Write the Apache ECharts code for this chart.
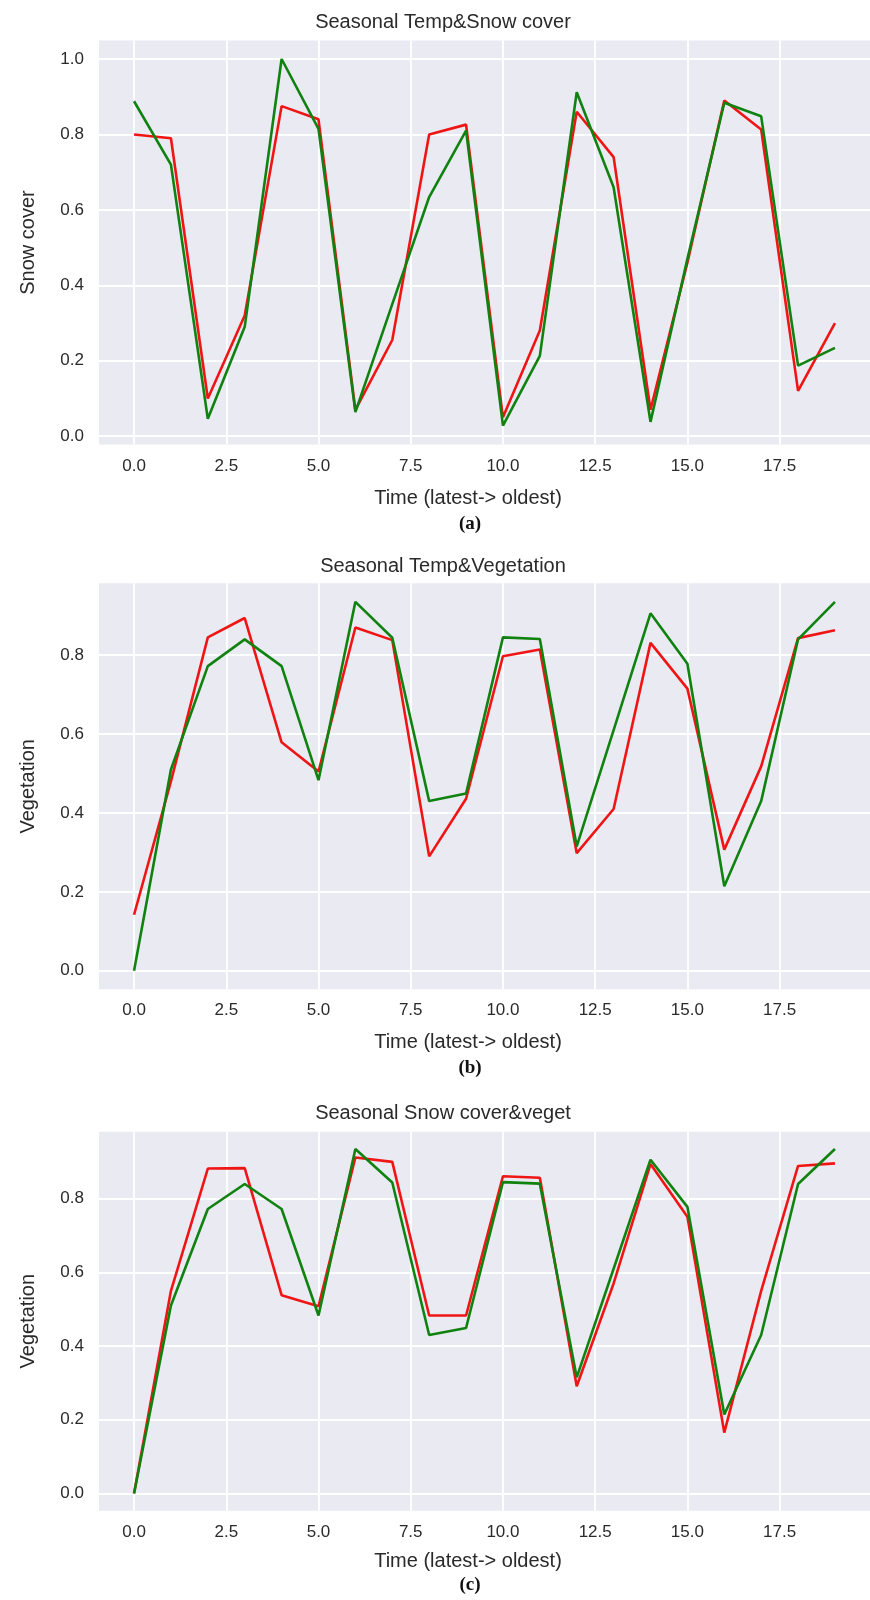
<!DOCTYPE html>
<html>
<head>
<meta charset="utf-8">
<script src="https://cdn.jsdelivr.net/npm/echarts@6/dist/echarts.min.js"></script>
<style>
  html, body { margin: 0; padding: 0; background: #ffffff; }
  #chart { width: 870px; height: 1600px; }
</style>
</head>
<body>
<div id="chart"></div>
<script>
// ---- data ---------------------------------------------------------------
const timeSteps = [0, 1, 2, 3, 4, 5, 6, 7, 8, 9, 10, 11, 12, 13, 14, 15, 16, 17, 18, 19];

// (a) seasonal temperature vs snow cover
const tempVsSnow = [0.80, 0.79, 0.10, 0.32, 0.875, 0.84, 0.07, 0.255, 0.80, 0.826,
                    0.05, 0.28, 0.86, 0.74, 0.07, 0.46, 0.89, 0.813, 0.12, 0.30];
const snowCover  = [0.888, 0.72, 0.046, 0.29, 1.0, 0.815, 0.064, 0.35, 0.634, 0.81,
                    0.028, 0.213, 0.912, 0.66, 0.038, 0.47, 0.884, 0.848, 0.187, 0.234];

// (b) seasonal temperature vs vegetation
const tempVsVeg  = [0.142, 0.48, 0.845, 0.894, 0.579, 0.505, 0.87, 0.838, 0.29, 0.436,
                    0.797, 0.814, 0.298, 0.41, 0.831, 0.715, 0.307, 0.518, 0.843, 0.863];
const vegetation = [0.0, 0.51, 0.772, 0.84, 0.772, 0.483, 0.935, 0.844, 0.43, 0.449,
                    0.845, 0.841, 0.315, 0.61, 0.906, 0.778, 0.214, 0.43, 0.84, 0.935];

// (c) seasonal snow cover vs vegetation
const snowVsVeg  = [0.0, 0.55, 0.882, 0.883, 0.538, 0.508, 0.912, 0.90, 0.483, 0.483,
                    0.861, 0.857, 0.291, 0.57, 0.894, 0.751, 0.165, 0.55, 0.889, 0.896];

// tick labels
const xTickValues = [0, 2.5, 5, 7.5, 10, 12.5, 15, 17.5];
const yTickValues = [0, 0.2, 0.4, 0.6, 0.8, 1.0];

const panelTitles = ['Seasonal Temp&Snow cover', 'Seasonal Temp&Vegetation', 'Seasonal Snow cover&veget'];
const yNames      = ['Snow cover', 'Vegetation', 'Vegetation'];
const xName       = 'Time (latest-> oldest)';
const captions    = ['(a)', '(b)', '(c)'];
const redSeries   = [tempVsSnow, tempVsVeg, snowVsVeg];
const greenSeries = [snowCover, vegetation, vegetation];

// ---- layout -------------------------------------------------------------
const panels = [
  { top: 40.5,   height: 404, yMin: -0.022, yMax: 1.049, titleY: 24,   nameY: 500,  capY: 526 },
  { top: 583.3,  height: 406, yMin: -0.047, yMax: 0.982, titleY: 568,  nameY: 1044, capY: 1070 },
  { top: 1131.7, height: 379, yMin: -0.047, yMax: 0.982, titleY: 1115, nameY: 1563, capY: 1587 }
];
const plotLeft = 99, plotWidth = 788, xMin = -0.95, xMax = 19.95;
const titleCenterX = 443, nameCenterX = 468, captionCenterX = 470;

const sans = '"Liberation Sans", Arial, sans-serif';
const serif = '"Liberation Serif", "Times New Roman", serif';
const textColor = '#2a2a2a';
const titleSize = 20, labelSize = 20, tickSize = 17;

const grid = [], xAxis = [], yAxis = [], series = [], title = [];

panels.forEach((p, i) => {
  grid.push({
    left: plotLeft, top: p.top, width: plotWidth, height: p.height,
    show: true, backgroundColor: '#eaeaf2', borderWidth: 0
  });
  xAxis.push({
    type: 'value', gridIndex: i, min: xMin, max: xMax,
    axisLine: { show: false },
    axisTick: { show: false, customValues: xTickValues },
    axisLabel: {
      customValues: xTickValues, margin: 13, color: textColor,
      fontFamily: sans, fontSize: tickSize,
      formatter: v => v.toFixed(1)
    },
    splitLine: { show: true, lineStyle: { color: '#ffffff', width: 1.8 } }
  });
  const yTicks = yTickValues.filter(v => v >= p.yMin && v <= p.yMax);
  yAxis.push({
    type: 'value', gridIndex: i, min: p.yMin, max: p.yMax,
    name: yNames[i], nameLocation: 'middle', nameRotate: 90, nameGap: 61,
    nameTextStyle: { color: textColor, fontFamily: sans, fontSize: labelSize },
    axisLine: { show: false },
    axisTick: { show: false, customValues: yTicks },
    axisLabel: {
      customValues: yTicks, margin: 15, color: textColor,
      fontFamily: sans, fontSize: tickSize,
      formatter: v => v.toFixed(1)
    },
    splitLine: { show: true, lineStyle: { color: '#ffffff', width: 1.8 } }
  });
  title.push({
    text: panelTitles[i], left: titleCenterX, top: p.titleY - titleSize * 0.6, textAlign: 'center',
    textStyle: { color: textColor, fontFamily: sans, fontSize: titleSize, fontWeight: 'normal' },
    padding: 0
  });
  title.push({
    text: xName, left: nameCenterX, top: p.nameY - labelSize * 0.6, textAlign: 'center',
    textStyle: { color: textColor, fontFamily: sans, fontSize: labelSize, fontWeight: 'normal' },
    padding: 0
  });
  title.push({
    text: captions[i], left: captionCenterX, top: p.capY - 11, textAlign: 'center',
    textStyle: { color: '#111111', fontFamily: serif, fontSize: 19, fontWeight: 'bold' },
    padding: 0
  });
  series.push({
    type: 'line', xAxisIndex: i, yAxisIndex: i, showSymbol: false, z: 2,
    lineStyle: { color: '#f01515', width: 2.6 }, itemStyle: { color: '#f01515' },
    data: timeSteps.map((t, j) => [t, redSeries[i][j]])
  });
  series.push({
    type: 'line', xAxisIndex: i, yAxisIndex: i, showSymbol: false, z: 3,
    lineStyle: { color: '#0f820f', width: 2.6 }, itemStyle: { color: '#0f820f' },
    data: timeSteps.map((t, j) => [t, greenSeries[i][j]])
  });
});

const chart = echarts.init(document.getElementById('chart'), null, { renderer: 'canvas' });
chart.setOption({ animation: false, backgroundColor: '#ffffff', title, grid, xAxis, yAxis, series });
</script>
</body>
</html>
